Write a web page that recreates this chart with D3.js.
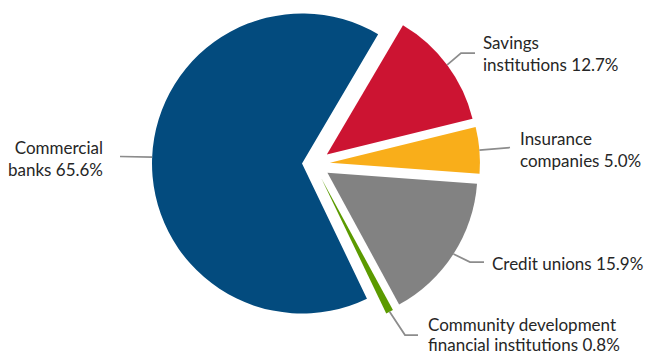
<!DOCTYPE html>
<html>
<head>
<meta charset="utf-8">
<script src="https://cdn.jsdelivr.net/npm/d3@7"></script>
<style>
  html, body { margin: 0; padding: 0; background: #fff; }
  #chart { width: 645px; height: 354px; }
  .label { font-family: Lato, "Open Sans", sans-serif; font-size: 17px; fill: #262626; }
  .leader { fill: none; stroke: #8c8c8c; stroke-width: 1.75; }
</style>
</head>
<body>
<div id="chart"></div>
<script>
//Datos
const categories = ['Savings institutions', 'Insurance companies', 'Credit unions', 'Community development financial institutions', 'Commercial banks'];
const values = [12.7, 5.0, 15.9, 0.8, 65.6];
const labelLines = [
    ['Savings', 'institutions 12.7%'],
    ['Insurance', 'companies 5.0%'],
    ['Credit unions 15.9%'],
    ['Community development', 'financial institutions 0.8%'],
    ['Commercial', 'banks 65.6%']
];

//Colores fijos
const colors = ['#CC1432', '#F9AE1A', '#828282', '#5B9A00', '#034B7E'];

//Layout (separación de porciones y posición de etiquetas)
const explode = [16, 16, 16, 16, 12];
const labelLayout = [
    { elbow: [461, 53], end: [475, 53], x: 483, y: 49, lh: 21.5, anchor: 'start' },
    { elbow: null, end: [510, 147.5], x: 520, y: 145, lh: 21.5, anchor: 'start' },
    { elbow: [470, 262], end: [484, 262], x: 492, y: 270, lh: 21.5, anchor: 'start' },
    { elbow: [405, 335], end: [418, 335], x: 428, y: 331, lh: 20, anchor: 'start' },
    { elbow: null, end: [120, 156.5], x: 103, y: 154, lh: 21.5, anchor: 'end' }
];

let width = 645, height = 354,
    cx = 314, cy = 164, radius = 150,
    startDeg = 30.5;

let svg = d3.select('#chart')
    .append('svg')
    .attr('width', width)
    .attr('height', height);

let data = categories.map((c, i) => ({ name: c, value: values[i], idx: i }));

let pie = d3.pie()
    .sort(null)
    .value(d => d.value)
    .startAngle(startDeg * Math.PI / 180)
    .endAngle(startDeg * Math.PI / 180 + 2 * Math.PI);

let arc = d3.arc()
    .innerRadius(0)
    .outerRadius(radius);

let arcs = pie(data);

function offsetOf(d) {
    let mid = (d.startAngle + d.endAngle) / 2;
    let off = explode[d.data.idx];
    return [Math.sin(mid) * off, -Math.cos(mid) * off];
}

let g = svg.append('g')
    .attr('transform', 'translate(' + cx + ',' + cy + ')');

g.selectAll('path.slice')
    .data(arcs)
    .enter()
    .append('path')
    .attr('class', 'slice')
    .attr('fill', d => colors[d.data.idx])
    .attr('transform', d => {
        let o = offsetOf(d);
        return 'translate(' + o[0] + ',' + o[1] + ')';
    })
    .attr('d', arc);

//Líneas guía
g.selectAll('path.leader')
    .data(arcs)
    .enter()
    .append('path')
    .attr('class', 'leader')
    .attr('d', d => {
        let mid = (d.startAngle + d.endAngle) / 2;
        let o = offsetOf(d);
        let sx = cx + o[0] + Math.sin(mid) * radius,
            sy = cy + o[1] - Math.cos(mid) * radius;
        let lay = labelLayout[d.data.idx];
        let pts = [[sx, sy]];
        if (lay.elbow) pts.push(lay.elbow);
        pts.push(lay.end);
        return d3.line()(pts.map(p => [p[0] - cx, p[1] - cy]));
    });

//Etiquetas
svg.selectAll('text.label')
    .data(arcs)
    .enter()
    .append('text')
    .attr('class', 'label')
    .attr('text-anchor', d => labelLayout[d.data.idx].anchor)
    .each(function(d) {
        let lay = labelLayout[d.data.idx];
        d3.select(this).selectAll('tspan')
            .data(labelLines[d.data.idx])
            .enter()
            .append('tspan')
            .attr('x', lay.x)
            .attr('y', (t, j) => lay.y + j * lay.lh)
            .text(t => t);
    });
</script>
</body>
</html>
